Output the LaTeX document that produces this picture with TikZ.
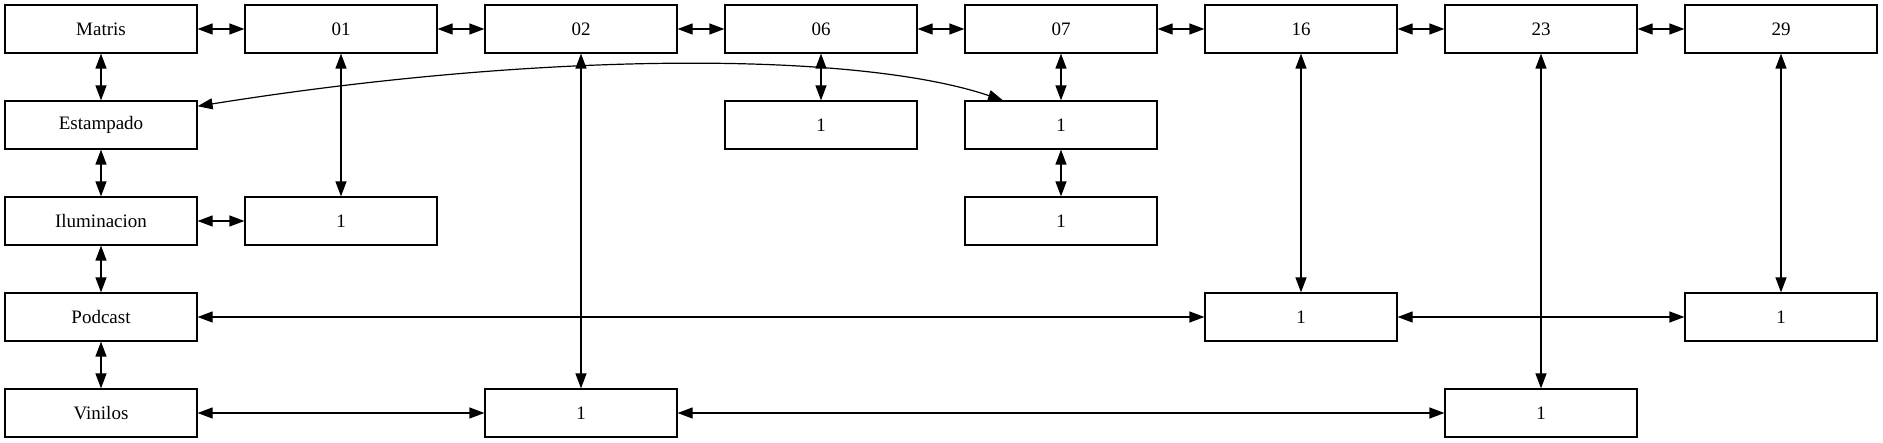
\documentclass[tikz,border=0pt]{standalone}
\usepackage{fontspec}
\setmainfont{Liberation Serif}
\usetikzlibrary{arrows.meta}
\begin{document}
\begin{tikzpicture}[x=1pt,y=-1pt,
  box/.style={draw,line width=1.2pt,minimum width=192pt,minimum height=48pt,inner sep=0pt,
    font=\fontsize{19}{22}\selectfont},
  link/.style={line width=1.2pt,{Triangle[length=15pt,width=11pt]}-{Triangle[length=15pt,width=11pt]}}]
\useasboundingbox (0,0) rectangle (1883,443);
% top row
\node[box] (matris) at (101,29) {Matris};
\node[box] (c01) at (341,29) {01};
\node[box] (c02) at (581,29) {02};
\node[box] (c06) at (821,29) {06};
\node[box] (c07) at (1061,29) {07};
\node[box] (c16) at (1301,29) {16};
\node[box] (c23) at (1541,29) {23};
\node[box] (c29) at (1781,29) {29};
% row 1
\node[box] (estampado) at (101,125) {Estampado};
\node[box] (n31) at (821,125) {1};
\node[box] (n41) at (1061,125) {1};
% row 2
\node[box] (ilum) at (101,221) {Iluminacion};
\node[box] (n12) at (341,221) {1};
\node[box] (n42) at (1061,221) {1};
% row 3
\node[box] (podcast) at (101,317) {Podcast};
\node[box] (n53) at (1301,317) {1};
\node[box] (n73) at (1781,317) {1};
% row 4
\node[box] (vinilos) at (101,413) {Vinilos};
\node[box] (n24) at (581,413) {1};
\node[box] (n64) at (1541,413) {1};
% top row links
\draw[link] (matris) -- (c01);
\draw[link] (c01) -- (c02);
\draw[link] (c02) -- (c06);
\draw[link] (c06) -- (c07);
\draw[link] (c07) -- (c16);
\draw[link] (c16) -- (c23);
\draw[link] (c23) -- (c29);
% left column
\draw[link] (matris) -- (estampado);
\draw[link] (estampado) -- (ilum);
\draw[link] (ilum) -- (podcast);
\draw[link] (podcast) -- (vinilos);
% others
\draw[link] (ilum) -- (n12);
\draw[link] (c01) -- (n12);
\draw[link] (c02) -- (n24);
\draw[link] (c06) -- (n31);
\draw[link] (c07) -- (n41);
\draw[link] (n41) -- (n42);
\draw[link] (c16) -- (n53);
\draw[link] (c23) -- (n64);
\draw[link] (c29) -- (n73);
\draw[link] (podcast) -- (n53);
\draw[link] (n53) -- (n73);
\draw[link] (vinilos) -- (n24);
\draw[link] (n24) -- (n64);
\draw[link] (estampado.11) .. controls (550,50) and (860,52) .. (n41.157);
\end{tikzpicture}
\end{document}
